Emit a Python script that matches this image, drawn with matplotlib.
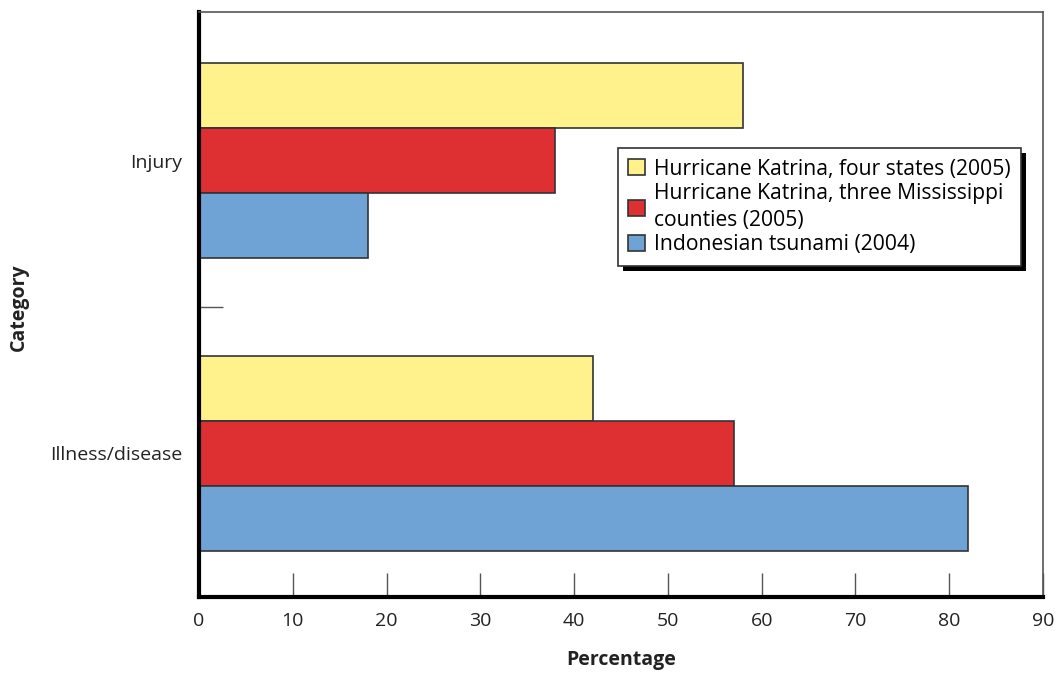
import matplotlib
matplotlib.use("Agg")
import matplotlib.pyplot as plt
from matplotlib.patches import Rectangle
import numpy as np

plt.rcParams['font.family'] = ['Open Sans', 'DejaVu Sans']

categories = ["Illness/disease", "Injury"]
series_names = ["Hurricane Katrina, four states (2005)",
                "Hurricane Katrina, three Mississippi\ncounties (2005)",
                "Indonesian tsunami (2004)"]
katrina_four = [42, 58]
katrina_miss = [57, 38]
tsunami = [82, 18]
colors = ["#FFF18C", "#DE2F33", "#6FA3D6"]
xticks = [0, 10, 20, 30, 40, 50, 60, 70, 80, 90]

fig = plt.figure(figsize=(10.57, 6.79), dpi=100)
ax = fig.add_axes([0.1883, 0.1208, 0.7985, 0.8615])

y = np.arange(len(categories))
h = 0.222
offsets = [h, 0, -h]
for vals, off, c, name in zip([katrina_four, katrina_miss, tsunami], offsets, colors, series_names):
    ax.barh(y + off, vals, height=h, color=c, edgecolor="#333333", linewidth=1.2, label=name, zorder=2)

ax.set_xlim(0, 90)
ax.set_ylim(-0.49, 1.507)
ax.set_xticks(xticks)
ax.set_xticklabels([str(t) for t in xticks], fontsize=14, color="#222222")
ax.tick_params(axis='x', direction='in', length=17, width=1, color="#555555", pad=11)
ax.set_yticks(y)
ax.set_yticklabels(categories, fontsize=14, color="#222222")
ax.tick_params(axis='y', which='major', length=0, pad=12)
ax.set_yticks([0.5], minor=True)
ax.tick_params(axis='y', which='minor', direction='in', length=17, width=1, color="#555555")

for s in ['left', 'bottom']:
    ax.spines[s].set_linewidth(3)
    ax.spines[s].set_color('black')
for s in ['top', 'right']:
    ax.spines[s].set_linewidth(1.2)
    ax.spines[s].set_color('#555555')

ax.set_xlabel("Percentage", fontsize=14, fontweight='bold', labelpad=14, color="#222222")
fig.text(19 / 1057, 1 - 307 / 679, "Category", rotation=90, fontsize=14, fontweight='bold',
         color="#222222", ha='center', va='center')

leg = ax.legend(loc='upper left', bbox_to_anchor=(0.496, 0.7675), borderaxespad=0,
                fontsize=15.2, frameon=True, fancybox=False, shadow=False,
                edgecolor='#333333', handlelength=0.78, handleheight=0.78,
                handletextpad=0.45, labelspacing=0.15, borderpad=0.5)
for t in leg.get_texts():
    t.set_linespacing(1.4)
leg.get_frame().set_linewidth(1.2)
leg.get_frame().set_alpha(1)
leg.set_zorder(5)

fig.canvas.draw()
bb = leg.get_window_extent()
shadow = Rectangle((bb.x0 + 5, bb.y0 - 5), bb.width, bb.height, transform=None,
                   facecolor='black', edgecolor='none', zorder=4, clip_on=False)
ax.add_artist(shadow)

fig.savefig("out.png", dpi=100)
